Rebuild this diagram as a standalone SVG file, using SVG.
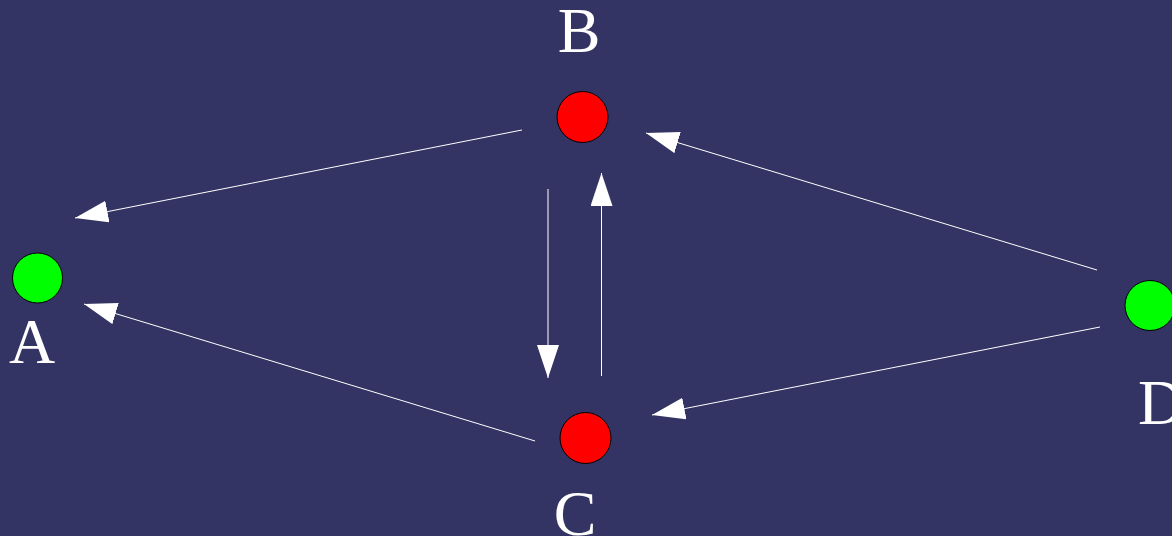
<svg xmlns="http://www.w3.org/2000/svg" width="1172" height="536" viewBox="0 0 1172 536">
<style>
.bg{fill:#343464}
.node{stroke:#000;stroke-width:1}
.red{fill:#ff0000}
.green{fill:#00ff00}
.lbl{font-family:"Liberation Serif","Times New Roman",serif;font-size:64px;fill:#fff;text-anchor:middle}
.edge{stroke:#fff;stroke-width:1;fill:none;marker-end:url(#ah)}
</style>
<defs>
<marker id="ah" viewBox="0 0 33 22" refX="33" refY="11" markerWidth="33" markerHeight="22" markerUnits="userSpaceOnUse" orient="auto">
<path d="M0,0 L33,11 L0,22 z" fill="#fff"/>
</marker>
</defs>
<rect class="bg" x="0" y="0" width="1172" height="536"/>
<g id="connectors">
<line class="edge" x1="522" y1="130" x2="75" y2="218"/>
<line class="edge" x1="535" y1="441" x2="84" y2="304"/>
<line class="edge" x1="548" y1="189" x2="548" y2="378"/>
<line class="edge" x1="601.5" y1="376" x2="601.5" y2="173"/>
<line class="edge" x1="1097" y1="270" x2="646" y2="133"/>
<line class="edge" x1="1100" y1="327" x2="652" y2="415"/>
</g>
<g id="A">
<circle class="node green" cx="37.5" cy="278" r="25"/>
<text class="lbl" x="32" y="363">A</text>
</g>
<g id="B">
<circle class="node red" cx="582.5" cy="117" r="25.5"/>
<text class="lbl" x="579" y="52">B</text>
</g>
<g id="C">
<circle class="node red" cx="585.5" cy="438" r="25.5"/>
<text class="lbl" x="575" y="535">C</text>
</g>
<g id="D">
<circle class="node green" cx="1150" cy="305.5" r="25"/>
<text class="lbl" x="1138" y="424" style="text-anchor:start">D</text>
</g>
</svg>
